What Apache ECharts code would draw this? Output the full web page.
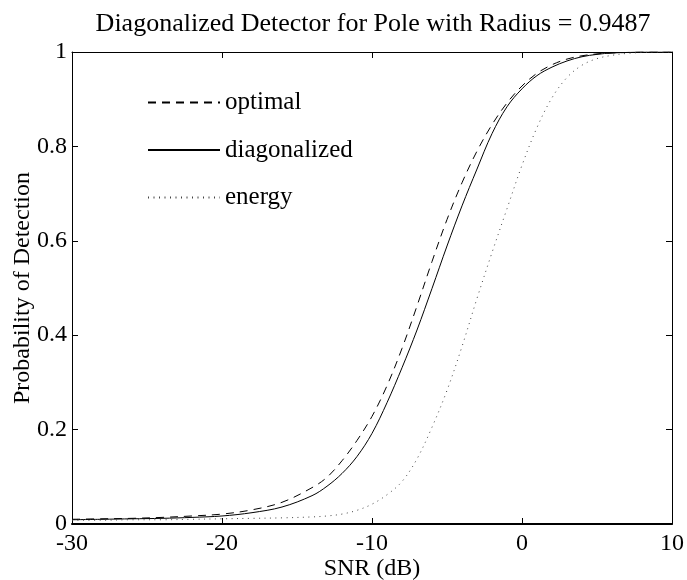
<!DOCTYPE html>
<html>
<head>
<meta charset="utf-8">
<script src="https://cdn.jsdelivr.net/npm/echarts@6/dist/echarts.min.js"></script>
<style>html,body{margin:0;padding:0;background:#fff}#c{width:687px;height:580px}</style>
</head>
<body>
<div id="c"></div>
<script>
var titleText = 'Diagonalized Detector for Pole with Radius = 0.9487';
var xName = 'SNR (dB)';
var yName = 'Probability of Detection';
var seriesNames = ['optimal', 'diagonalized', 'energy'];
var snr = [-30,-28,-26,-24,-22,-20,-18,-16,-14,-13,-12,-11,-10,-9,-8,-7,-6,-5,-4,-3,-2,-1,0,1,2,3,4,5,6,7,8,9,10];
var optimal = [0.010,0.011,0.012,0.014,0.017,0.021,0.030,0.046,0.077,0.099,0.134,0.177,0.228,0.293,0.372,0.462,0.556,0.645,0.723,0.790,0.846,0.892,0.928,0.955,0.973,0.985,0.992,0.996,0.998,0.999,1.0,1.0,1.0];
var diagonalized = [0.009,0.010,0.011,0.012,0.014,0.017,0.024,0.036,0.060,0.080,0.107,0.143,0.192,0.257,0.331,0.411,0.499,0.589,0.674,0.752,0.827,0.884,0.922,0.950,0.968,0.981,0.990,0.995,0.998,0.999,1.0,1.0,1.0];
var energy = [0.008,0.008,0.009,0.009,0.010,0.011,0.012,0.013,0.015,0.017,0.021,0.029,0.042,0.062,0.090,0.138,0.205,0.283,0.376,0.478,0.575,0.668,0.760,0.840,0.903,0.946,0.972,0.986,0.993,0.997,0.999,1.0,1.0];

function pairs(ys){ return snr.map(function(x,i){ return [x, ys[i]]; }); }
var FONT = "'Liberation Serif', 'Times New Roman', Times, serif";
var chart = echarts.init(document.getElementById('c'), null, {renderer:'canvas'});
chart.setOption({
  animation: false,
  backgroundColor: '#fff',
  textStyle: {fontFamily: FONT, color: '#000'},
  title: {
    text: titleText, left: 368, top: 6, textAlign: 'center',
    textStyle: {fontFamily: FONT, fontSize: 26, fontWeight: 'normal', color: '#000'}
  },
  legend: {
    orient: 'vertical', left: 142, top: 85,
    itemWidth: 72, itemHeight: 24, itemGap: 22.5,
    itemStyle: {opacity: 0},
    textStyle: {fontFamily: FONT, fontSize: 25, color: '#000'},
    data: seriesNames
  },
  grid: {left: 72, right: 15, top: 52, bottom: 56, show: false, containLabel: false, outerBoundsMode: 'none'},
  xAxis: [{
    type: 'value', min: -30, max: 10, interval: 10, position: 'bottom',
    name: xName, nameLocation: 'middle', nameGap: 33, nameMoveOverlap: false,
    nameTextStyle: {fontFamily: FONT, fontSize: 24, color: '#000'},
    axisLine: {show: true, onZero: false, lineStyle: {color: '#000', width: 2}},
    axisTick: {show: true, inside: true, length: 6, lineStyle: {color: '#000'}},
    axisLabel: {fontFamily: FONT, fontSize: 24, color: '#000', margin: 8},
    splitLine: {show: false}
  }, {
    type: 'value', min: -30, max: 10, interval: 10, position: 'top',
    axisLine: {show: true, onZero: false, lineStyle: {color: '#000', width: 1}},
    axisTick: {show: true, inside: true, length: 6, lineStyle: {color: '#000'}},
    axisLabel: {show: false}, splitLine: {show: false}
  }],
  yAxis: [{
    type: 'value', min: 0, max: 1, interval: 0.2, position: 'left',
    name: yName, nameLocation: 'middle', nameGap: 37, nameMoveOverlap: false,
    nameTextStyle: {fontFamily: FONT, fontSize: 24, color: '#000'},
    axisLine: {show: true, onZero: false, lineStyle: {color: '#000', width: 1}},
    axisTick: {show: true, inside: true, length: 6, lineStyle: {color: '#000'}},
    axisLabel: {fontFamily: FONT, fontSize: 24, color: '#000', margin: 5},
    splitLine: {show: false}
  }, {
    type: 'value', min: 0, max: 1, interval: 0.2, position: 'right',
    axisLine: {show: true, onZero: false, lineStyle: {color: '#000', width: 1}},
    axisTick: {show: true, inside: true, length: 6, lineStyle: {color: '#000'}},
    axisLabel: {show: false}, splitLine: {show: false}
  }],
  series: [{
    name: seriesNames[0], type: 'line', data: pairs(optimal), smooth: 0.35,
    symbol: 'none', color: '#000',
    lineStyle: {color: '#000', width: 1, type: [8, 6]}
  }, {
    name: seriesNames[1], type: 'line', data: pairs(diagonalized), smooth: 0.35,
    symbol: 'none', color: '#000',
    lineStyle: {color: '#000', width: 1, type: 'solid'}
  }, {
    name: seriesNames[2], type: 'line', data: pairs(energy), smooth: 0.35,
    symbol: 'none', color: '#666',
    lineStyle: {color: '#444', width: 1, type: [1, 4.5]}
  }]
});
</script>
</body>
</html>
